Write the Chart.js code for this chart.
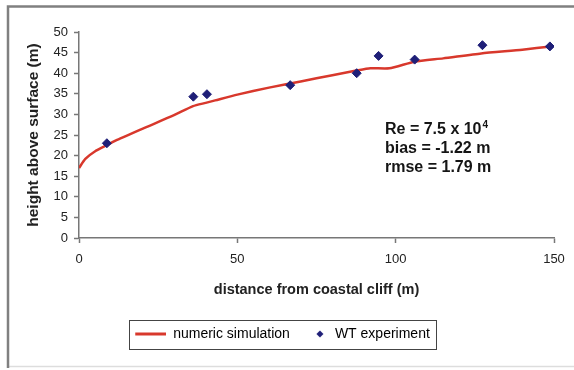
<!DOCTYPE html>
<html>
<head>
<meta charset="utf-8">
<script src="https://cdn.jsdelivr.net/npm/chart.js@4"></script>
<style>
  html, body { margin: 0; padding: 0; background: #fff; }
  #wrap { width: 574px; height: 370px; }
</style>
</head>
<body>
<div id="wrap"><canvas id="chart" width="574" height="370"></canvas></div>
<script>
// numeric simulation curve (distance m, height m)
const simX = [0, 2, 5, 9, 12, 20, 30, 36, 40, 43, 50, 60, 70, 80, 88, 92, 98, 106, 115, 127, 140, 149];
const simY = [17, 19.2, 21, 22.6, 23.8, 26.5, 29.8, 32, 32.8, 33.4, 34.8, 36.5, 38, 39.5, 40.7, 41.2, 41.2, 42.8, 43.6, 44.8, 45.7, 46.5];

// wind tunnel points
const wtX = [8.8, 36.1, 40.4, 66.7, 87.7, 94.6, 106, 127.4, 148.7];
const wtY = [23.0, 34.3, 34.9, 37.1, 40.0, 44.2, 43.3, 46.8, 46.5];

const RED = '#d8382c';
const NAVY = '#1f1f78';
const AXIS = '#777777';
const FONT = '"Liberation Sans", Arial, sans-serif';

const simData = simX.map((x, i) => ({ x: x, y: simY[i] }));
const wtData = wtX.map((x, i) => ({ x: x, y: wtY[i] }));

// legend symbols, 32px wide so they fill the legend box
function lineIcon() {
  const cv = document.createElement('canvas');
  cv.width = 32; cv.height = 6;
  const c = cv.getContext('2d');
  c.strokeStyle = RED; c.lineWidth = 3;
  c.beginPath(); c.moveTo(1, 3); c.lineTo(32, 3); c.stroke();
  return cv;
}
function diamondIcon() {
  const cv = document.createElement('canvas');
  cv.width = 32; cv.height = 10;
  const c = cv.getContext('2d');
  c.fillStyle = NAVY;
  c.beginPath();
  c.moveTo(24, 1.5); c.lineTo(27.5, 5); c.lineTo(24, 8.5); c.lineTo(20.5, 5);
  c.closePath(); c.fill();
  return cv;
}
const icons = [lineIcon(), diamondIcon()];

const framePlugin = {
  id: 'frame',
  beforeDraw(chart) {
    const c = chart.ctx;
    c.save();
    c.fillStyle = '#fff';
    c.fillRect(0, 0, chart.width, chart.height);
    c.strokeStyle = '#dddddd';
    c.lineWidth = 1.5;
    c.beginPath();
    c.moveTo(8, 366.5); c.lineTo(574, 366.5);
    c.stroke();
    c.strokeStyle = '#808080';
    c.lineWidth = 2.5;
    c.beginPath();
    c.moveTo(8, 368); c.lineTo(8, 6.5); c.lineTo(574, 6.5);
    c.stroke();
    c.restore();
  },
  afterDraw(chart) {
    const c = chart.ctx;
    c.save();
    // legend border
    const hb = chart.legend.legendHitBoxes;
    if (hb && hb.length) {
      const l = hb[0].left - 5;
      const last = hb[hb.length - 1];
      const r = last.left + last.width + 6;
      const t = hb[0].top + hb[0].height / 2 - 14.5;
      c.strokeStyle = '#444';
      c.lineWidth = 1;
      c.strokeRect(Math.round(l) + 0.5, Math.round(t) + 0.5, Math.round(r - l), 29);
    }
    // annotation
    c.fillStyle = '#151515';
    c.font = 'bold 16px ' + FONT;
    c.textBaseline = 'alphabetic';
    c.textAlign = 'left';
    const x0 = 385;
    const s1 = 'Re = 7.5 x 10';
    c.fillText(s1, x0, 134);
    const w1 = c.measureText(s1).width;
    c.font = 'bold 10px ' + FONT;
    c.fillText('4', x0 + w1 + 1, 128);
    c.font = 'bold 16px ' + FONT;
    c.fillText('bias = -1.22 m', x0, 153);
    c.fillText('rmse = 1.79 m', x0, 172);
    c.restore();
  }
};

new Chart(document.getElementById('chart'), {
  type: 'scatter',
  data: {
    datasets: [
      {
        type: 'line',
        label: 'numeric simulation',
        data: simData,
        borderColor: RED,
        backgroundColor: RED,
        borderWidth: 2.5,
        pointRadius: 0,
        tension: 0.2,
        fill: false,
        order: 2
      },
      {
        label: 'WT experiment',
        data: wtData,
        pointStyle: 'rectRot',
        pointRadius: 4.5,
        backgroundColor: NAVY,
        borderColor: NAVY,
        borderWidth: 1,
        order: 1
      }
    ]
  },
  options: {
    responsive: false,
    animation: false,
    layout: { padding: { top: 32, left: 10, right: 20, bottom: 19 } },
    plugins: {
      tooltip: { enabled: false },
      legend: {
        position: 'bottom',
        labels: {
          usePointStyle: true,
          pointStyleWidth: 32,
          boxHeight: 5,
          padding: 6,
          color: '#222',
          font: { family: FONT, size: 14 },
          generateLabels: (chart) => chart.data.datasets.map((ds, i) => ({
            text: ds.label,
            pointStyle: icons[i],
            fillStyle: ds.backgroundColor,
            strokeStyle: ds.borderColor,
            lineWidth: 0,
            datasetIndex: i
          }))
        }
      }
    },
    scales: {
      x: {
        type: 'linear',
        min: 0,
        max: 150,
        afterFit(scale) { scale.height = 83; },
        ticks: { stepSize: 50, color: '#222', padding: 9, font: { family: FONT, size: 13 } },
        grid: { drawOnChartArea: false, drawTicks: true, tickLength: 5, color: AXIS, tickWidth: 1.5 },
        border: { color: AXIS, width: 1.5 },
        title: {
          display: true,
          text: 'distance from coastal cliff (m)',
          color: '#222',
          font: { family: FONT, size: 14.5, weight: 'bold' },
          padding: { top: 8, bottom: 22 }
        }
      },
      y: {
        min: 0,
        max: 50,
        afterFit(scale) { scale.width = 69; },
        ticks: { stepSize: 5, color: '#222', padding: 6, font: { family: FONT, size: 13 } },
        grid: { drawOnChartArea: false, drawTicks: true, tickLength: 5, color: AXIS, tickWidth: 1.5 },
        border: { color: AXIS, width: 1.5 },
        title: {
          display: true,
          text: 'height above surface (m)',
          color: '#222',
          font: { family: FONT, size: 15.5, weight: 'bold' },
          padding: { top: 14, bottom: 0 }
        }
      }
    }
  },
  plugins: [framePlugin]
});
</script>
</body>
</html>
